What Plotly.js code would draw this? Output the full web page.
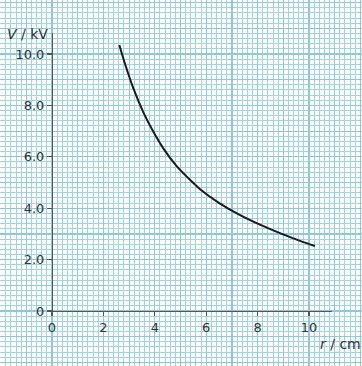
<!DOCTYPE html>
<html>
<head>
<meta charset="utf-8">
<script src="https://cdn.plot.ly/plotly-3.0.1.min.js"></script>
<style>html,body{margin:0;padding:0;background:#fff;}#chart{width:362px;height:366px;}</style>
</head>
<body>
<div id="chart"></div>
<script>
// Data
const rValues = [2.62, 2.84, 3.16, 3.55, 3.94, 4.33, 4.85, 5.50, 5.76, 6.54, 7.32, 8.09, 8.87, 9.65, 10.23];
const vValues = [10.35, 9.62, 8.68, 7.74, 6.98, 6.33, 5.64, 4.98, 4.74, 4.18, 3.73, 3.36, 3.03, 2.73, 2.53];
const xTickVals = [0, 2, 4, 6, 8, 10];
const xTickText = ['0', '2', '4', '6', '8', '10'];
const yTickVals = [0, 2, 4, 6, 8, 10];
const yTickText = ['0', '2.0', '4.0', '6.0', '8.0', '10.0'];
const xTitle = '<i>r</i> / cm';
const yTitle = '<i>V</i> / kV';

const W = 362, H = 366, S = 25.7;      // pixels per unit
const X0 = 52, Y0 = 311;                // pixel position of origin
const xAxisStart = 49.5, xAxisEnd = 332;
const yAxisTop = 33;

const font = {family: 'DejaVu Sans, Verdana, sans-serif', size: 13, color: '#333'};

const traces = [
  {x: [0], y: [0], xaxis: 'x', yaxis: 'y', mode: 'markers', marker: {opacity: 0}, hoverinfo: 'skip', showlegend: false},
  {x: rValues, y: vValues, xaxis: 'x2', yaxis: 'y2', mode: 'lines',
   line: {color: '#1a1a1a', width: 2, shape: 'spline', smoothing: 0.8}, showlegend: false}
];

const gridAxis = (lo, hi) => ({
  domain: [0, 1], range: [lo, hi], tick0: 0, dtick: 1,
  showgrid: true, gridcolor: '#8ec8df', gridwidth: 1.2,
  minor: {tick0: 0, dtick: 0.2, showgrid: true, gridcolor: '#9fd3e8', gridwidth: 1},
  showticklabels: false, ticks: '', zeroline: false, showline: false, fixedrange: true
});

const layout = {
  width: W, height: H,
  margin: {l: 0, r: 0, t: 0, b: 0, pad: 0},
  paper_bgcolor: '#ffffff', plot_bgcolor: 'rgba(0,0,0,0)',
  showlegend: false,
  xaxis: gridAxis(-X0 / S, (W - X0) / S),
  yaxis: gridAxis(-(H - Y0) / S, Y0 / S),
  xaxis2: {
    domain: [xAxisStart / W, xAxisEnd / W],
    range: [(xAxisStart - X0) / S, (xAxisEnd - X0) / S],
    anchor: 'y2', showgrid: false, zeroline: false,
    showline: true, linecolor: '#555', linewidth: 1.2,
    ticks: 'outside', ticklen: 4, tickcolor: '#555', tickwidth: 1.2,
    tickvals: xTickVals, ticktext: xTickText, tickfont: font, fixedrange: true
  },
  yaxis2: {
    domain: [(H - Y0) / H, (H - yAxisTop) / H],
    range: [0, (Y0 - yAxisTop) / S],
    anchor: 'free', position: X0 / W, showgrid: false, zeroline: false,
    showline: true, linecolor: '#555', linewidth: 1.2,
    ticks: 'outside', ticklen: 5, tickcolor: '#555', tickwidth: 1.2,
    tickvals: yTickVals, ticktext: yTickText, tickfont: font, fixedrange: true
  },
  annotations: [
    {xref: 'paper', yref: 'paper', x: 5 / W, y: (H - 34) / H, xanchor: 'left', yanchor: 'middle',
     text: yTitle, showarrow: false, font: {family: font.family, size: 14, color: '#333'}},
    {xref: 'paper', yref: 'paper', x: 318 / W, y: (H - 344) / H, xanchor: 'left', yanchor: 'middle',
     text: xTitle, showarrow: false, font: {family: font.family, size: 14, color: '#333'}}
  ]
};

Plotly.newPlot('chart', traces, layout, {staticPlot: true, displayModeBar: false});
</script>
</body>
</html>
